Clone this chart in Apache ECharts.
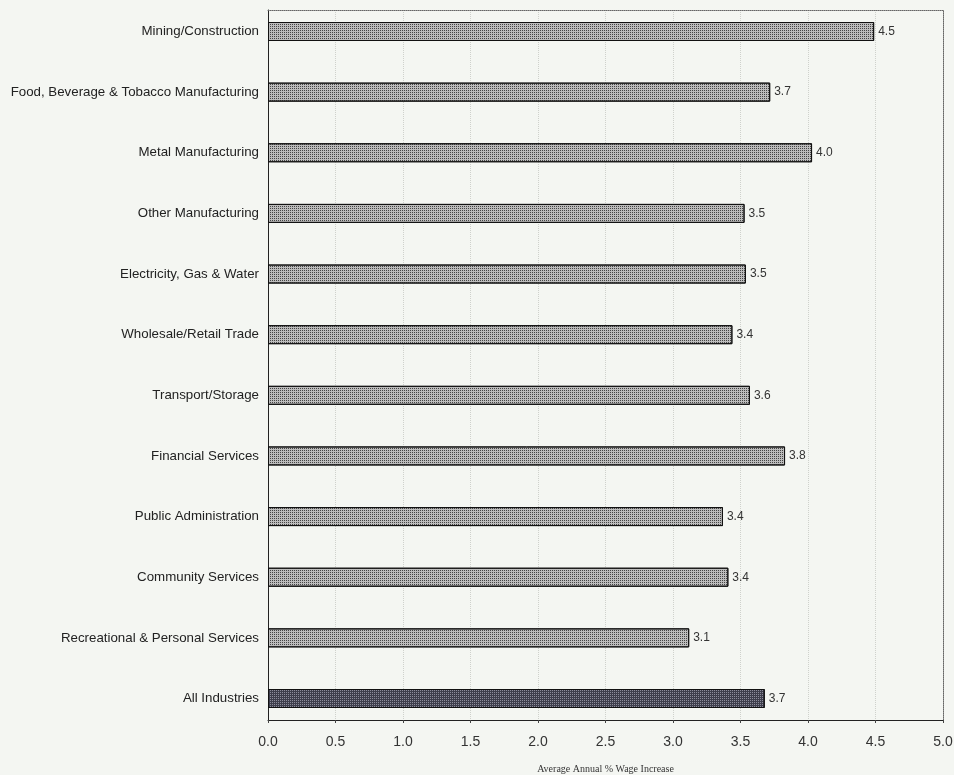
<!DOCTYPE html>
<html>
<head>
<meta charset="utf-8">
<script src="https://cdn.jsdelivr.net/npm/echarts@6/dist/echarts.min.js"></script>
<style>
html,body{margin:0;padding:0;background:#f4f6f2;}
#chart{width:954px;height:775px;}
</style>
</head>
<body>
<div id="chart"></div>
<script>
const categories = [
  'Mining/Construction',
  'Food, Beverage & Tobacco Manufacturing',
  'Metal Manufacturing',
  'Other Manufacturing',
  'Electricity, Gas & Water',
  'Wholesale/Retail Trade',
  'Transport/Storage',
  'Financial Services',
  'Public Administration',
  'Community Services',
  'Recreational & Personal Services',
  'All Industries'
];
const wageIncrease = [4.49, 3.72, 4.03, 3.53, 3.54, 3.44, 3.57, 3.83, 3.37, 3.41, 3.12, 3.68];
const totalCategory = 'All Industries';
const axisMin = 0, axisMax = 5, axisStep = 0.5;

function makeStyle(dark) {
  return {
    color: dark ? '#3e3e4c' : '#bcbcbc',
    borderColor: '#111',
    borderWidth: 1,
    decal: {
      symbol: 'rect',
      symbolSize: 1,
      dashArrayX: [1, 1],
      dashArrayY: [1, 1],
      color: dark ? 'rgba(150,150,165,0.9)' : 'rgba(55,55,55,0.9)',
      rotation: 0
    }
  };
}

const barData = wageIncrease.map((v, i) => ({
  value: v,
  itemStyle: makeStyle(categories[i] === totalCategory)
}));

const sans = 'Liberation Sans, Arial, sans-serif';

const chart = echarts.init(document.getElementById('chart'), null, {renderer: 'canvas'});
chart.setOption({
  backgroundColor: '#f4f6f2',
  animation: false,
  grid: [
    {left: 268, right: 11, top: 31.5, bottom: 76.5, containLabel: false, outerBoundsMode: 'none'},
    {left: 268, right: 11, top: 10, bottom: 55, containLabel: false, outerBoundsMode: 'none'}
  ],
  xAxis: [
    {gridIndex: 0, type: 'value', min: axisMin, max: axisMax, show: false},
    {
      gridIndex: 1, type: 'value', position: 'bottom', min: axisMin, max: axisMax, interval: axisStep,
      axisLine: {show: true, onZero: false, lineStyle: {color: '#222', width: 1}},
      axisTick: {show: true, length: 3, lineStyle: {color: '#444'}},
      axisLabel: {
        margin: 15, color: '#333', fontFamily: sans, fontSize: 14,
        formatter: v => v.toFixed(1)
      },
      splitLine: {show: true, lineStyle: {color: '#cfd1cc', type: 'dotted', width: 1}},
      name: 'Average Annual % Wage Increase',
      nameLocation: 'middle',
      nameGap: 44,
      nameTextStyle: {fontFamily: 'Liberation Serif, Times New Roman, serif', fontSize: 10, color: '#333'}
    },
    {
      gridIndex: 1, type: 'value', position: 'top', min: axisMin, max: axisMax,
      axisLine: {show: true, onZero: false, lineStyle: {color: '#666', type: 'dotted', width: 1}},
      axisTick: {show: false}, axisLabel: {show: false}, splitLine: {show: false}
    }
  ],
  yAxis: [
    {
      gridIndex: 0, type: 'category', data: categories, inverse: true, boundaryGap: false,
      axisLine: {show: false}, axisTick: {show: false},
      axisLabel: {
        margin: 9, color: '#222', fontFamily: sans, fontSize: 13.3
      },
      splitLine: {show: false}
    },
    {
      gridIndex: 1, type: 'value', position: 'left', min: 0, max: 1,
      axisLine: {show: true, onZero: false, lineStyle: {color: '#222', width: 1}},
      axisTick: {show: false}, axisLabel: {show: false}, splitLine: {show: false}
    },
    {
      gridIndex: 1, type: 'value', position: 'right', min: 0, max: 1,
      axisLine: {show: true, onZero: false, lineStyle: {color: '#666', type: 'dotted', width: 1}},
      axisTick: {show: false}, axisLabel: {show: false}, splitLine: {show: false}
    }
  ],
  series: [
    {
      type: 'bar',
      xAxisIndex: 0,
      yAxisIndex: 0,
      data: barData,
      barWidth: 19,
      label: {
        show: true,
        position: 'right',
        distance: 4,
        color: '#333',
        fontFamily: sans,
        fontSize: 12,
        formatter: p => p.value.toFixed(1)
      }
    }
  ]
});
</script>
</body>
</html>
